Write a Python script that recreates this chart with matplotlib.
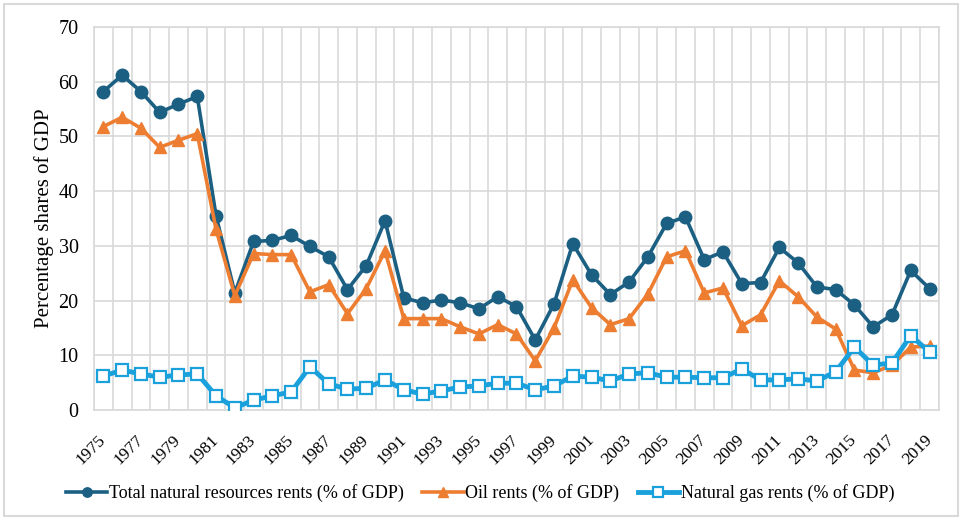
import matplotlib
matplotlib.use('Agg')
import matplotlib.pyplot as plt
import numpy as np
from matplotlib.patches import Rectangle

plt.rcParams['font.family'] = ['Liberation Serif', 'DejaVu Serif']

years = list(range(1975, 2020))

total_rents = [58.2, 61.2, 58.2, 54.4, 55.9, 57.3, 35.5, 21.4, 30.8, 31.0,
               31.9, 29.9, 28.0, 22.0, 26.4, 34.6, 20.5, 19.6, 20.1, 19.6,
               18.5, 20.7, 18.9, 12.8, 19.4, 30.4, 24.7, 21.1, 23.4, 28.0,
               34.1, 35.3, 27.5, 28.9, 23.1, 23.3, 29.7, 26.9, 22.5, 22.0,
               19.2, 15.2, 17.4, 25.5, 22.2]

oil_rents = [51.8, 53.5, 51.5, 48.0, 49.3, 50.5, 33.0, 20.9, 28.6, 28.4,
             28.4, 21.6, 22.9, 17.6, 22.2, 29.1, 16.7, 16.7, 16.7, 15.2,
             13.9, 15.6, 13.9, 9.0, 15.0, 23.8, 18.7, 15.6, 16.7, 21.2,
             28.0, 29.1, 21.4, 22.3, 15.4, 17.4, 23.6, 20.7, 17.0, 14.8,
             7.3, 6.8, 8.2, 11.5, 11.7]

gas_rents = [6.2, 7.3, 6.6, 6.0, 6.4, 6.6, 2.6, 0.4, 1.8, 2.6,
             3.3, 7.9, 4.8, 3.8, 4.0, 5.5, 3.7, 2.9, 3.5, 4.2,
             4.4, 4.9, 4.9, 3.7, 4.4, 6.2, 6.0, 5.3, 6.6, 6.8,
             6.0, 6.0, 5.9, 5.9, 7.5, 5.5, 5.5, 5.7, 5.3, 7.0,
             11.5, 8.2, 8.6, 13.6, 10.6]

c_total = '#1B5F82'
c_oil = '#ED7D31'
c_gas = '#1AA1DC'
grid_c = '#D9D9D9'

x = np.arange(len(years))

fig = plt.figure(figsize=(9.64, 5.19), dpi=100)
ax = fig.add_axes([0.0975, 0.21, 0.8765, 0.738])

ax.plot(x, total_rents, color=c_total, lw=2.6, marker='o', ms=9,
        label='Total natural resources rents (% of GDP)', zorder=3)
ax.plot(x, oil_rents, color=c_oil, lw=2.6, marker='^', ms=9,
        label='Oil rents (% of GDP)', zorder=4)
ax.plot(x, gas_rents, color=c_gas, lw=3.5, marker='s', ms=9,
        markerfacecolor='white', markeredgewidth=1.6,
        label='Natural gas rents (% of GDP)', zorder=5)

ax.set_xlim(-0.5, len(years) - 0.5)
ax.set_ylim(0, 70)
ax.set_yticks(range(0, 71, 10))
ax.set_xticks(x[::2])
ax.set_xticklabels([str(y) for y in years[::2]], rotation=45, fontsize=12.5,
                   ha='right', va='center', rotation_mode='anchor')
ax.set_xticks(np.arange(-0.5, len(years), 1), minor=True)
ax.tick_params(axis='y', labelsize=14.5, length=0, pad=11)
ax.tick_params(axis='x', which='major', length=0, pad=20)
ax.tick_params(axis='x', which='minor', length=0)

ax.grid(True, axis='y', which='major', color=grid_c, lw=1.2)
ax.grid(True, axis='x', which='minor', color=grid_c, lw=1.2)
ax.set_axisbelow(True)
for s in ax.spines.values():
    s.set_color(grid_c)
    s.set_linewidth(1.2)

ax.set_ylabel('Percentage shares of GDP', fontsize=15, labelpad=3)

ax.legend(loc='center', bbox_to_anchor=(0.457, -0.218), ncol=3, frameon=False,
          fontsize=13, handlelength=2.3, handletextpad=0.1, columnspacing=1.0,
          markerscale=0.75)

fig.patches.append(Rectangle((0.004, 0.006), 0.99, 0.986, transform=fig.transFigure,
                             fill=False, edgecolor=grid_c, lw=1.5))

fig.savefig('out.png', dpi=100)
